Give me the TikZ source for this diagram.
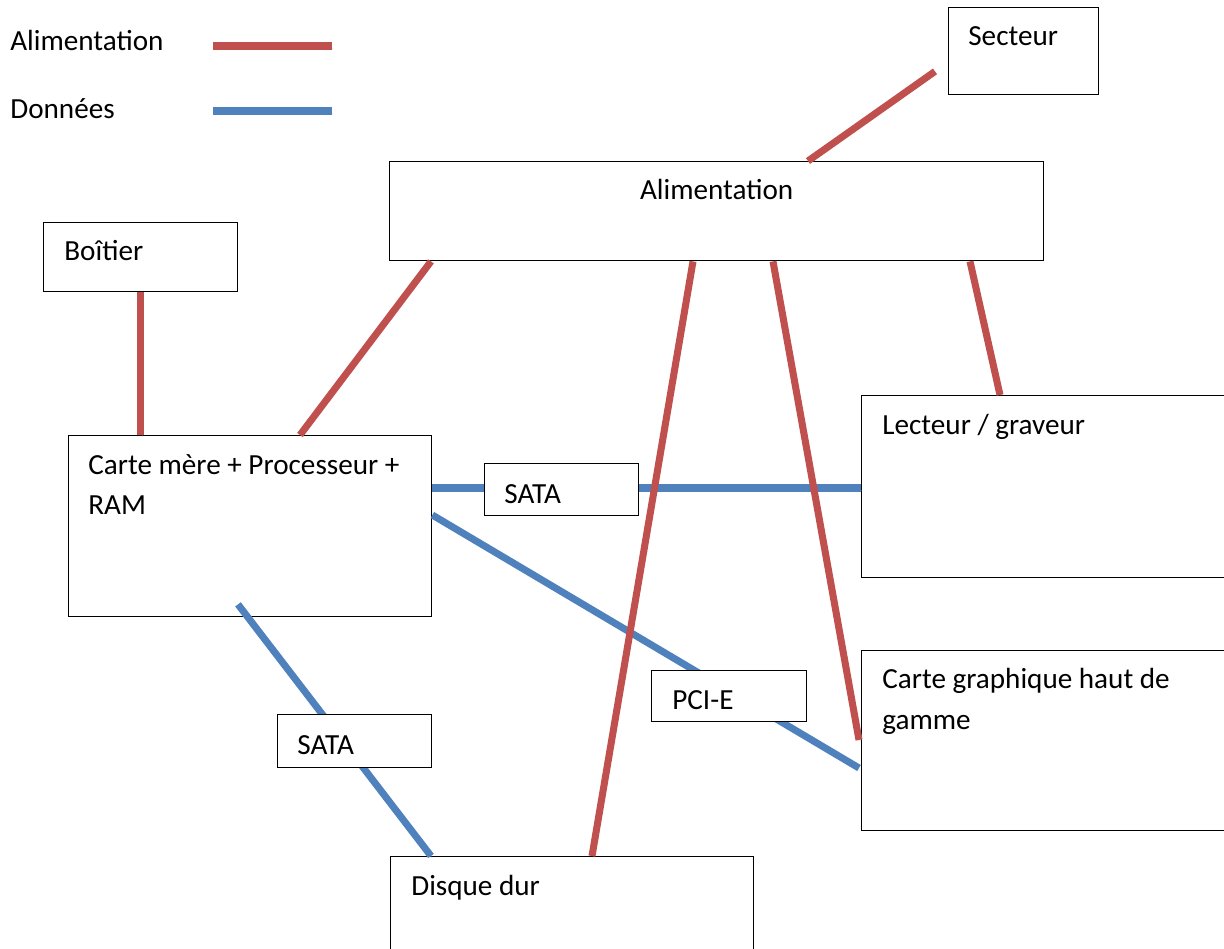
\documentclass[tikz,border=0pt]{standalone}
\usepackage{fontspec}
\setmainfont{Carlito}
\usepackage{tikz}

\definecolor{alimred}{RGB}{192,80,77}
\definecolor{datablue}{RGB}{79,129,189}

\begin{document}
\begin{tikzpicture}[x=0.02cm,y=-0.02cm,
    box/.style={draw,line width=0.8pt,fill=white,inner sep=0pt,anchor=north west},
    txt/.style={anchor=base west,inner sep=0pt,font=\fontsize{16.6}{22.7}\selectfont},
    shade/.style={preaction={draw=black!30,opacity=.35,transform canvas={shift={(0.8pt,-1.2pt)}}}},
    power/.style={shade,alimred,line width=4pt},
    data/.style={shade,datablue,line width=4pt}]
    \useasboundingbox (0,0) rectangle (1224,948);

    % legende
    \node[txt] (legalim) at (10,50) {Alimentation};
    \node[txt] (legdata) at (10,118) {Données};
    \draw[power] (213,46) -- (332,46);
    \draw[data] (213,111) -- (332,111);

    % boites
    \node[box,minimum width=3cm,minimum height=1.74cm] (secteur) at (948,7) {};
    \node[box,minimum width=13.08cm,minimum height=1.98cm] (alim) at (389,161) {};
    \node[box,minimum width=3.88cm,minimum height=1.38cm] (boitier) at (43,222) {};
    \node[box,minimum width=7.26cm,minimum height=3.62cm] (cm) at (68,435) {};
    \node[box,minimum width=8.38cm,minimum height=3.64cm] (lect) at (861,395) {};
    \node[box,minimum width=8.38cm,minimum height=3.6cm] (cg) at (861,650) {};
    \node[box,minimum width=7.26cm,minimum height=2.88cm] (dd) at (390,856) {};

    % liaisons donnees
    \draw[data] ([shift={(0,53)}]cm.north east) -- ([shift={(0,93)}]lect.north west);
    \draw[data] ([shift={(0,80)}]cm.north east) -- ([shift={(-2,118)}]cg.north west);
    \draw[data] ([shift={(170,-13)}]cm.south west) -- ([shift={(41,0)}]dd.north west);

    % liaisons alimentation
    \draw[power] ([shift={(-13,-24)}]secteur.south west) -- ([shift={(419,0)}]alim.north west);
    \draw[power] (boitier.south) -- (boitier.south |- cm.north);
    \draw[power] ([shift={(42,0)}]alim.south west) -- ([shift={(232,0)}]cm.north west);
    \draw[power] ([shift={(304,0)}]alim.south west) -- ([shift={(202,0)}]dd.north west);
    \draw[power] ([shift={(384,0)}]alim.south west) -- ([shift={(-2,90)}]cg.north west);
    \draw[power] ([shift={(581,0)}]alim.south west) -- ([shift={(139,0)}]lect.north west);

    % etiquettes des bus
    \node[box,minimum width=3.08cm,minimum height=1.04cm] (sata1) at (484,463) {};
    \node[box,minimum width=3.1cm,minimum height=1.02cm] (pcie) at (651,670) {};
    \node[box,minimum width=3.08cm,minimum height=1.06cm] (sata2) at (277,714) {};

    % textes
    \node[txt] (secteurtxt) at ([shift={(20,38)}]secteur.north west) {Secteur};
    \node[txt,anchor=base] (alimtxt) at ([shift={(0,38)}]alim.north) {Alimentation};
    \node[txt] (boitiertxt) at ([shift={(21,38)}]boitier.north west) {Boîtier};
    \node[txt] (cmtxt1) at ([shift={(20,39)}]cm.north west) {Carte mère + Processeur +};
    \node[txt] (cmtxt2) at ([shift={(20,79)}]cm.north west) {RAM};
    \node[txt] (lecttxt) at ([shift={(21,39)}]lect.north west) {Lecteur / graveur};
    \node[txt] (cgtxt1) at ([shift={(21,38)}]cg.north west) {Carte graphique haut de};
    \node[txt] (cgtxt2) at ([shift={(21,79)}]cg.north west) {gamme};
    \node[txt] (ddtxt) at ([shift={(21,39)}]dd.north west) {Disque dur};
    \node[txt] (sata1txt) at ([shift={(20,40)}]sata1.north west) {SATA};
    \node[txt] (pcietxt) at ([shift={(21,39)}]pcie.north west) {PCI-E};
    \node[txt] (sata2txt) at ([shift={(20,40)}]sata2.north west) {SATA};
\end{tikzpicture}
\end{document}
